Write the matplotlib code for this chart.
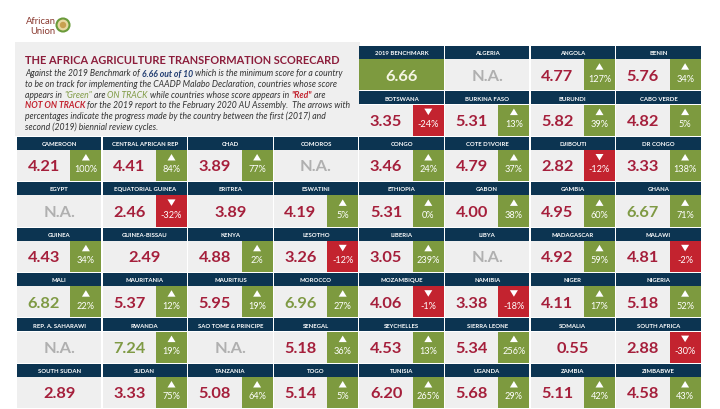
import matplotlib
matplotlib.use("Agg")
import matplotlib.pyplot as plt
from matplotlib.patches import Rectangle, Polygon, Circle

countries = ["2019 BENCHMARK", "ALGERIA", "ANGOLA", "BENIN",
             "BOTSWANA", "BURKINA FASO", "BURUNDI", "CABO VERDE",
             "CAMEROON", "CENTRAL AFRICAN REP", "CHAD", "COMOROS", "CONGO", "COTE D'IVOIRE", "DJIBOUTI", "DR CONGO",
             "EGYPT", "EQUATORIAL GUINEA", "ERITREA", "ESWATINI", "ETHIOPIA", "GABON", "GAMBIA", "GHANA",
             "GUINEA", "GUINEA-BISSAU", "KENYA", "LESOTHO", "LIBERIA", "LIBYA", "MADAGASCAR", "MALAWI",
             "MALI", "MAURITANIA", "MAURITIUS", "MOROCCO", "MOZAMBIQUE", "NAMIBIA", "NIGER", "NIGERIA",
             "REP. A. SAHARAWI", "RWANDA", "SAO TOME & PRINCIPE", "SENEGAL", "SEYCHELLES", "SIERRA LEONE", "SOMALIA", "SOUTH AFRICA",
             "SOUTH SUDAN", "SUDAN", "TANZANIA", "TOGO", "TUNISIA", "UGANDA", "ZAMBIA", "ZIMBABWE"]
scores = [6.66, None, 4.77, 5.76,
          3.35, 5.31, 5.82, 4.82,
          4.21, 4.41, 3.89, None, 3.46, 4.79, 2.82, 3.33,
          None, 2.46, 3.89, 4.19, 5.31, 4.00, 4.95, 6.67,
          4.43, 2.49, 4.88, 3.26, 3.05, None, 4.92, 4.81,
          6.82, 5.37, 5.95, 6.96, 4.06, 3.38, 4.11, 5.18,
          None, 7.24, None, 5.18, 4.53, 5.34, 0.55, 2.88,
          2.89, 3.33, 5.08, 5.14, 6.20, 5.68, 5.11, 4.58]
changes = [None, None, 127, 34,
           -24, 13, 39, 5,
           100, 84, 77, None, 24, 37, -12, 138,
           None, -32, None, 5, 0, 38, 60, 71,
           34, None, 2, -12, 239, None, 59, -2,
           22, 12, 19, 27, -1, -18, 17, 52,
           None, 19, None, 36, 13, 256, None, -30,
           None, 75, 64, 5, 265, 29, 42, 43]
benchmark = 6.66

NAVY = "#0c3451"
CELL = "#efefef"
GREEN = "#7d9a3f"
RED = "#c3232f"
SCORE_RED = "#a51f3b"
SCORE_GREEN = "#7f9a44"
NA_GRAY = "#b0b0b0"
TITLE = "#8c1d3b"
FONT = "Lato"

fig = plt.figure(figsize=(7.2, 4.1), dpi=100)
ax = fig.add_axes([0, 0, 1, 1])
ax.set_xlim(0, 720)
ax.set_ylim(410, 0)
ax.axis("off")

# logo
ax.text(41, 22, "African", ha="center", va="center", fontsize=6.8, color="#8a3a30", family=FONT)
ax.text(43, 31, "Union", ha="center", va="center", fontsize=6.8, color="#8a3a30", family=FONT)
ax.add_patch(Circle((63, 26), 6.5, facecolor="#e8d8a0", edgecolor="#6a9a3a", lw=1.5))
ax.add_patch(Circle((63, 26), 3.2, facecolor="#c8a050", edgecolor="none"))

# header panel
ax.add_patch(Rectangle((15, 43), 345, 94, facecolor="#efefef", edgecolor="none"))
ax.text(25, 61, "THE AFRICA AGRICULTURE TRANSFORMATION SCORECARD", fontsize=7.9,
        fontweight="bold", color=TITLE, family=FONT, va="center", ha="left")

fig.canvas.draw()
renderer = fig.canvas.get_renderer()

para = [
    [("Against the 2019 Benchmark of ", "#333333", "normal"), ("6.66 out of 10", "#1f3b70", "bold"),
     (" which is the minimum score for a country", "#333333", "normal")],
    [("to be on track for implementing the CAADP Malabo Declaration, countries whose score", "#333333", "normal")],
    [("appears in ", "#333333", "normal"), ("\"Green\"", "#7f9a44", "normal"), (" are ", "#333333", "normal"),
     ("ON TRACK", "#7f9a44", "normal"), (" while countries whose score appears in ", "#333333", "normal"),
     ("\"Red\"", RED, "bold"), (" are", "#333333", "normal")],
    [("NOT ON TRACK", RED, "bold"), (" for the 2019 report to the February 2020 AU Assembly.  The arrows with", "#333333", "normal")],
    [("percentages indicate the progress made by the country between the first (2017) and", "#333333", "normal")],
    [("second (2019) biennial review cycles.", "#333333", "normal")],
]
inv = ax.transData.inverted()
for li, line in enumerate(para):
    x = 25
    y = 74 + li * 10.6
    for txt, col, wt in line:
        t = ax.text(x, y, txt, fontsize=6.25, style="italic", fontweight=wt, color=col,
                    family=FONT, va="center", ha="left")
        bb = t.get_window_extent(renderer)
        x = inv.transform((bb.x1, bb.y0))[0]

# grid
x0, cw = 17, 85.6
y0, rh = 47, 45.4
hh = 13.0
bw = 31
slots = [r * 8 + c for r in range(8) for c in range(8) if not (r < 2 and c < 4)]

for name, sc, ch, slot in zip(countries, scores, changes, slots):
    r, c = divmod(slot, 8)
    x = x0 + c * cw
    y = y0 + r * rh
    w = cw - 1.2
    dh = rh - hh - 1.2
    is_bench = name == "2019 BENCHMARK"
    ax.add_patch(Rectangle((x, y), w, hh, facecolor=NAVY, edgecolor="none"))
    ax.text(x + w / 2, y + hh / 2 + 0.3, name, ha="center", va="center", fontsize=4.3,
            color="white", fontweight="bold", family=FONT)
    ax.add_patch(Rectangle((x, y + hh + 0.2), w, dh, facecolor=GREEN if is_bench else CELL, edgecolor="none"))
    yc = y + hh + 0.2 + dh / 2
    if ch is not None:
        bcol = GREEN if ch >= 0 else RED
        bx = x + w - bw
        ax.add_patch(Rectangle((bx, y + hh + 0.2), bw, dh, facecolor=bcol, edgecolor="none"))
        cx = bx + bw / 2
        ty = y + hh + 0.2
        if ch >= 0:
            tri = [(cx - 4, ty + 10.5), (cx + 4, ty + 10.5), (cx, ty + 4)]
        else:
            tri = [(cx - 4, ty + 4), (cx + 4, ty + 4), (cx, ty + 10.5)]
        ax.add_patch(Polygon(tri, closed=True, facecolor="white", edgecolor="none"))
        ax.text(cx, ty + 19, f"{ch}%", ha="center", va="center", fontsize=6.6,
                color="white", family=FONT)
        vx = x + (w - bw) / 2
    else:
        vx = x + w / 2
    if sc is None:
        label, col = "N.A.", NA_GRAY
    else:
        label = f"{sc:.2f}"
        if is_bench:
            col = "#f6f6e4"
        elif sc >= benchmark:
            col = SCORE_GREEN
        else:
            col = SCORE_RED
    ax.text(vx, yc + 0.8, label, ha="center", va="center", fontsize=11.8,
            fontweight="bold", color=col, family=FONT)

fig.savefig("out.png", dpi=100)
